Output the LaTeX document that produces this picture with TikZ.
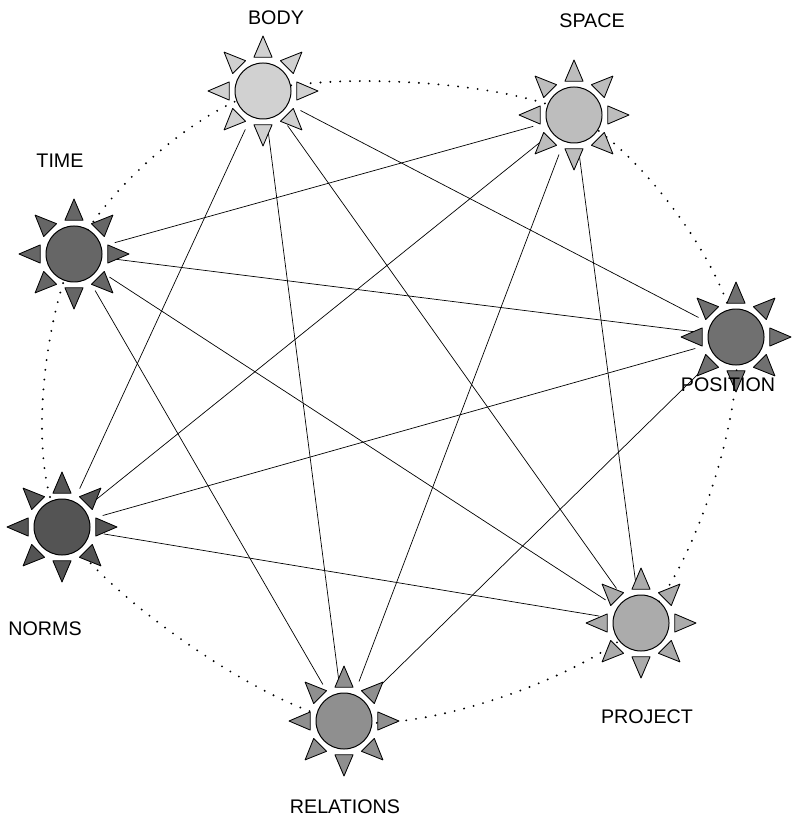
\documentclass[tikz,border=0pt]{standalone}
\usepackage{fontspec}
\setmainfont{Liberation Sans}
\usetikzlibrary{calc}
\definecolor{cBody}{gray}{0.82}
\definecolor{cSpace}{gray}{0.74}
\definecolor{cTime}{gray}{0.40}
\definecolor{cPos}{gray}{0.44}
\definecolor{cNorms}{gray}{0.33}
\definecolor{cProj}{gray}{0.67}
\definecolor{cRel}{gray}{0.56}
\begin{document}
\begin{tikzpicture}[x=0.025cm,y=-0.025cm]
    \tikzset{
    sun/.style={circle,minimum size=2.1cm,inner sep=0pt},
    core/.style={circle,minimum size=1.4cm,inner sep=0pt,draw=black,line width=0.7pt},
    ray/.style={draw=black,line width=0.6pt,line join=round},
    lbl/.style={font=\fontsize{14}{16}\selectfont},
    c1/.style={-, line width=0.5pt},
    c2/.style={line width=1.5pt, line cap=round, dash pattern=on 0pt off 7pt},
    }
    \useasboundingbox (0,0) rectangle (792,819);
    \node[sun] (n1) at (263,91) {};
    \node[sun] (n2) at (574,115) {};
    \node[sun] (n3) at (736,337) {};
    \node[sun] (n4) at (641,623) {};
    \node[sun] (n5) at (344,721) {};
    \node[sun] (n6) at (62,527) {};
    \node[sun] (n7) at (74,254) {};

    \draw[c2] plot[smooth cycle] coordinates {(n1.center) (n2.center) (n3.center) (n4.center) (n5.center) (n6.center) (n7.center)};

    \draw[c1] (n1) edge (n3);
    \draw[c1] (n1) edge (n4);
    \draw[c1] (n1) edge (n5);
    \draw[c1] (n1) edge (n6);
    \draw[c1] (n2) edge (n4);
    \draw[c1] (n2) edge (n5);
    \draw[c1] (n2) edge (n6);
    \draw[c1] (n2) edge (n7);
    \draw[c1] (n3) edge (n5);
    \draw[c1] (n3) edge (n6);
    \draw[c1] (n3) edge (n7);
    \draw[c1] (n4) edge (n6);
    \draw[c1] (n4) edge (n7);
    \draw[c1] (n5) edge (n7);

    \foreach \n/\c in {n1/cBody,n2/cSpace,n3/cPos,n4/cProj,n5/cRel,n6/cNorms,n7/cTime} {
      \foreach \a in {0,45,...,315}
        \filldraw[ray,fill=\c] ($(\n.center)+(\a-15:35)$) -- ($(\n.center)+(\a:55)$) -- ($(\n.center)+(\a+15:35)$) -- cycle;
      \node[core,fill=\c] at (\n.center) {};
    }

    \node[lbl] (l1) at (276,18) {BODY};
    \node[lbl] (l2) at (592,21) {SPACE};
    \node[lbl] (l3) at (728,385) {POSITION};
    \node[lbl] (l4) at (647,717) {PROJECT};
    \node[lbl] (l5) at (345,807) {RELATIONS};
    \node[lbl] (l6) at (45,629) {NORMS};
    \node[lbl] (l7) at (60,161) {TIME};
\end{tikzpicture}
\end{document}
